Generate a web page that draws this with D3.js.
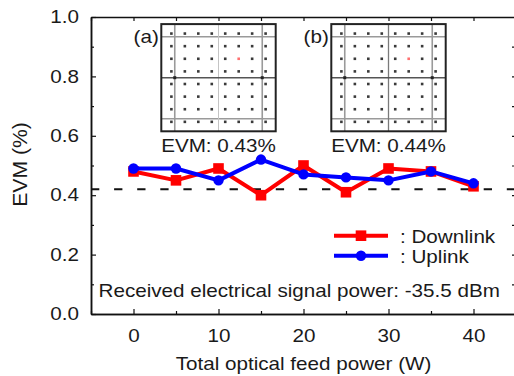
<!DOCTYPE html>
<html>
<head>
<meta charset="utf-8">
<script src="https://cdn.jsdelivr.net/npm/d3@7"></script>
<style>
  html, body { margin: 0; padding: 0; background: #fff; }
  svg { display: block; }
  text { font-family: "Liberation Sans", Arial, sans-serif; fill: #1a1a1a; }
</style>
</head>
<body>
<svg id="chart" width="514" height="376"></svg>
<script>
// ---------------- data ----------------
const powers = [0, 5, 10, 15, 20, 25, 30, 35, 40];
const downlink = [0.48, 0.45, 0.49, 0.40, 0.50, 0.41, 0.49, 0.48, 0.43];
const uplink   = [0.49, 0.49, 0.45, 0.52, 0.47, 0.46, 0.45, 0.48, 0.44];
const xTickLabels = [0, 10, 20, 30, 40];
const xMinorTicks = [-5, 5, 15, 25, 35];
const yTickLabels = [0.0, 0.2, 0.4, 0.6, 0.8, 1.0];
const yMinorTicks = [0.1, 0.3, 0.5, 0.7, 0.9];
const threshold = 0.42;
const qamLevels = [-7, -5, -3, -1, 1, 3, 5, 7];
const highlightSymbol = [3, 3];
const insetLabels = ["(a)", "(b)"];
const insetEVM = ["EVM: 0.43%", "EVM: 0.44%"];
const seriesNames = [": Downlink", ": Uplink"];
const noteText = "Received electrical signal power: -35.5 dBm";
const xTitle = "Total optical feed power (W)";
const yTitle = "EVM (%)";

// ---------------- layout ----------------
const FS = 17.5, SX = 1.18;
const svg = d3.select("#chart");
const x = d3.scaleLinear().domain([-5, 45]).range([91, 516]);
const y = d3.scaleLinear().domain([0, 1]).range([314, 17]);
const RED = "#ff0000", BLUE = "#0000ff";

function txt(px, py, s, anchor, size) {
  return svg.append("text")
    .attr("transform", `translate(${px},${py}) scale(${SX},1)`)
    .attr("text-anchor", anchor || "start")
    .style("font-size", (size || FS) + "px")
    .text(s);
}

// ---------------- axes ----------------
function styleAxis(g) {
  g.select(".domain").attr("stroke", "#111").attr("stroke-width", 1.5);
  g.selectAll(".tick line").attr("stroke", "#111").attr("stroke-width", 1.2);
  g.selectAll(".tick text").style("font-size", FS + "px").attr("fill", "#1a1a1a")
    .style("font-family", '"Liberation Sans", Arial, sans-serif');
}

// bottom
svg.append("g").attr("transform", `translate(0,${y(0)})`)
  .call(d3.axisBottom(x).tickValues(xTickLabels).tickSizeInner(-5).tickSizeOuter(0).tickPadding(16).tickFormat(d3.format("d")))
  .call(styleAxis)
  .call(g => g.selectAll(".tick text").attr("transform", `scale(${SX},1)`));
svg.append("g").attr("transform", `translate(0,${y(0)})`)
  .call(d3.axisBottom(x).tickValues(xMinorTicks).tickSizeInner(-3).tickSizeOuter(0).tickFormat(""))
  .call(styleAxis);
// top
svg.append("g").attr("transform", `translate(0,${y(1)})`)
  .call(d3.axisTop(x).tickValues(xTickLabels.concat(xMinorTicks)).tickSizeInner(-4).tickSizeOuter(0).tickFormat(""))
  .call(styleAxis);
// left
svg.append("g").attr("transform", `translate(${x(-5)},0)`)
  .call(d3.axisLeft(y).tickValues(yTickLabels).tickSizeInner(-5).tickSizeOuter(0).tickPadding(10.2).tickFormat(d3.format(".1f")))
  .call(styleAxis)
  .call(g => g.selectAll(".tick text").attr("transform", `scale(${SX},1)`));
svg.append("g").attr("transform", `translate(${x(-5)},0)`)
  .call(d3.axisLeft(y).tickValues(yMinorTicks).tickSizeInner(-3).tickSizeOuter(0).tickFormat(""))
  .call(styleAxis);
// right
svg.append("g").attr("transform", `translate(${x(45)},0)`)
  .call(d3.axisRight(y).tickValues(yTickLabels.concat(yMinorTicks)).tickSizeInner(-4).tickSizeOuter(0).tickFormat(""))
  .call(styleAxis);

// ---------------- threshold line ----------------
svg.append("line")
  .attr("x1", x(-5)).attr("x2", x(45))
  .attr("y1", y(threshold)).attr("y2", y(threshold))
  .attr("stroke", "#111").attr("stroke-width", 2)
  .attr("stroke-dasharray", "8.3,14.8");

// ---------------- insets (constellations) ----------------
const INSET_X = [10, 30], INSET_CY = 77.7, HW = 57.2, HH = 53.6;
insetLabels.forEach((lab, i) => {
  const cx = x(INSET_X[i]);
  const ix = d3.scaleLinear().domain([-8.5, 8.5]).range([cx - HW, cx + HW]);
  const iy = d3.scaleLinear().domain([-8.5, 8.5]).range([INSET_CY + HH, INSET_CY - HH]);
  const g = svg.append("g");
  g.append("rect").attr("x", ix(-8.5)).attr("y", iy(8.5))
    .attr("width", ix(8.5) - ix(-8.5)).attr("height", iy(-8.5) - iy(8.5))
    .attr("fill", "#fff");
  // grid lines
  [-6.5, 6.5].forEach(v => {
    g.append("line").attr("x1", ix(v)).attr("x2", ix(v)).attr("y1", iy(8.5)).attr("y2", iy(-8.5))
      .attr("stroke", "#9a9a9a").attr("stroke-width", 1.6);
    g.append("line").attr("x1", ix(-8.5)).attr("x2", ix(8.5)).attr("y1", iy(v)).attr("y2", iy(v))
      .attr("stroke", "#9a9a9a").attr("stroke-width", 1.6);
  });
  g.append("line").attr("x1", ix(0)).attr("x2", ix(0)).attr("y1", iy(8.5)).attr("y2", iy(-8.5))
    .attr("stroke", i === 0 ? "#c4c4c4" : "#7a7a7a").attr("stroke-width", i === 0 ? 1 : 1.3);
  g.append("line").attr("x1", ix(-8.5)).attr("x2", ix(8.5)).attr("y1", iy(0)).attr("y2", iy(0))
    .attr("stroke", "#555").attr("stroke-width", 1.6);
  [-6.5, 6.5].forEach(v => {
    g.append("rect").attr("x", ix(v) - 1.5).attr("y", iy(0) - 1.5).attr("width", 3).attr("height", 3).attr("fill", "#222");
  });
  // symbols
  const pts = [];
  qamLevels.forEach(q => qamLevels.forEach(p => pts.push([p, q])));
  g.selectAll("rect.sym").data(pts).enter().append("rect").attr("class", "sym")
    .attr("x", d => ix(d[0]) - 1.3).attr("y", d => iy(d[1]) - 1.3)
    .attr("width", 2.6).attr("height", 2.6)
    .attr("fill", d => (d[0] === highlightSymbol[0] && d[1] === highlightSymbol[1]) ? "#ff7070" : "#3a3a3a");
  // border
  g.append("rect").attr("x", ix(-8.5)).attr("y", iy(8.5))
    .attr("width", ix(8.5) - ix(-8.5)).attr("height", iy(-8.5) - iy(8.5))
    .attr("fill", "none").attr("stroke", "#222").attr("stroke-width", 2);
  txt(ix(-8.5) - 2.5, 43, lab, "end");
  txt(cx, 151.5, insetEVM[i], "middle");
});

// ---------------- series ----------------
const line = d3.line().x(d => x(d[0])).y(d => y(d[1]));
const dn = powers.map((p, i) => [p, downlink[i]]);
const up = powers.map((p, i) => [p, uplink[i]]);

svg.append("path").datum(dn).attr("d", line).attr("fill", "none")
  .attr("stroke", RED).attr("stroke-width", 4).attr("stroke-linejoin", "round");
svg.selectAll("rect.dn").data(dn).enter().append("rect").attr("class", "dn")
  .attr("x", d => x(d[0]) - 5.3).attr("y", d => y(d[1]) - 5.3)
  .attr("width", 10.6).attr("height", 10.6).attr("fill", RED);

svg.append("path").datum(up).attr("d", line).attr("fill", "none")
  .attr("stroke", BLUE).attr("stroke-width", 4).attr("stroke-linejoin", "round");
svg.selectAll("circle.up").data(up).enter().append("circle").attr("class", "up")
  .attr("cx", d => x(d[0])).attr("cy", d => y(d[1])).attr("r", 5.2).attr("fill", BLUE);

// ---------------- legend ----------------
const legY = [235.7, 255.7];
[RED, BLUE].forEach((c, i) => {
  svg.append("line").attr("x1", 334).attr("x2", 388).attr("y1", legY[i]).attr("y2", legY[i])
    .attr("stroke", c).attr("stroke-width", 4);
  if (i === 0) {
    svg.append("rect").attr("x", 361 - 5.3).attr("y", legY[i] - 5.3).attr("width", 10.6).attr("height", 10.6).attr("fill", c);
  } else {
    svg.append("circle").attr("cx", 361).attr("cy", legY[i]).attr("r", 5.2).attr("fill", c);
  }
  txt(400, legY[i] + 7, seriesNames[i], "start");
});

// ---------------- texts ----------------
txt(98.5, 297.3, noteText, "start");
txt(x(20), 370, xTitle, "middle");
svg.append("text")
  .attr("transform", `translate(26.5,164.5) rotate(-90) scale(1.21,${SX})`)
  .attr("text-anchor", "middle")
  .style("font-size", FS + "px")
  .text(yTitle);
</script>
</body>
</html>
